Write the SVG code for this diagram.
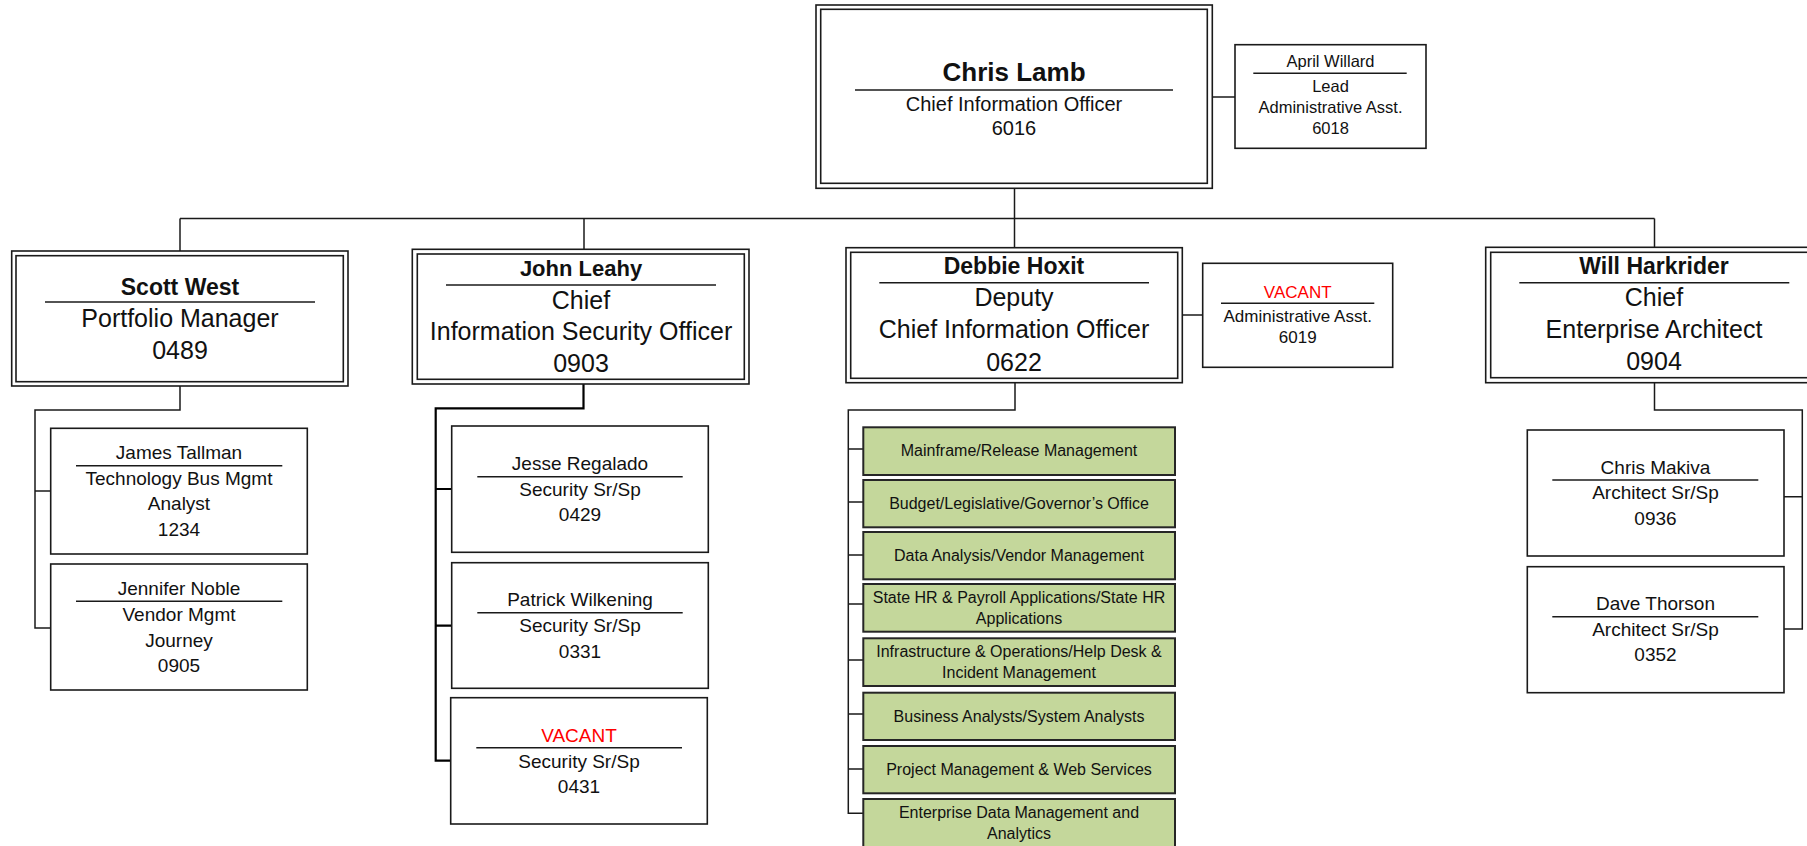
<svg xmlns="http://www.w3.org/2000/svg" width="1807" height="846" viewBox="0 0 1807 846">
<style>
.bx{fill:#fff;stroke:#1a1a1a;stroke-width:1.6}
.in{fill:none;stroke:#1a1a1a;stroke-width:1.6}
.gr{fill:#C4D79B;stroke:#262626;stroke-width:2}
.ln{stroke:#1a1a1a;stroke-width:1.5}
.cn{fill:none;stroke:#1a1a1a;stroke-width:1.5}
.ck{fill:none;stroke:#000;stroke-width:2.2}
text{font-family:"Liberation Sans",Arial,sans-serif;text-anchor:middle;fill:#111}
.bd{font-weight:bold}
.red{fill:#FF0000}
.s26{font-size:26px}.s25{font-size:25px}.s23{font-size:23px}.s22{font-size:22px}
.s20{font-size:20px}.s19{font-size:19px}.s17{font-size:17px}.s16{font-size:16px}.s165{font-size:16.5px}
</style>
<rect width="1807" height="846" fill="#fff"/>
<g id="connectors">
<path class="cn" d="M1014.5 188 V248"/>
<path class="cn" d="M180 218.5 H1654.5"/>
<path class="cn" d="M180 218.5 V251"/>
<path class="cn" d="M584 218.5 V249"/>
<path class="cn" d="M1654.5 218.5 V247"/>
<path class="cn" d="M1212 97 H1235"/>
<path class="cn" d="M1182 315 H1203"/>
<path class="cn" d="M180 386 V410 H35 V628 H50.7 M35 491 H50.7"/>
<path class="ck" d="M583.5 384 V408.3 H435.7 V760.7 H450.7 M435.7 489 H451.7 M435.7 625.7 H451.7"/>
<path class="cn" d="M1015 383 V410 H848.3 V813.3 H863.3 M848.3 449 H863.3 M848.3 502 H863.3 M848.3 555 H863.3 M848.3 604 H863.3 M848.3 660 H863.3 M848.3 714 H863.3 M848.3 769 H863.3"/>
<path class="cn" d="M1654.5 383 V410 H1802.3 V629 H1784 M1802.3 496.7 H1784"/>
</g>
<g id="chris-lamb">
<rect class="bx" x="816" y="5" width="396.3" height="183.3" stroke-width="2"/>
<rect class="in" x="820.7" y="9.3" width="386.6" height="174" stroke-width="2"/>
<text class="bd s26" x="1014" y="81">Chris Lamb</text>
<line class="ln" x1="855" y1="90" x2="1173" y2="90"/>
<text class="s20" x="1014" y="111">Chief Information Officer</text>
<text class="s20" x="1014" y="135">6016</text>
</g>
<g id="april-willard">
<rect class="bx" x="1235" y="44.7" width="191" height="103.6"/>
<text class="s165" x="1330.5" y="67.3">April Willard</text>
<line class="ln" x1="1253.3" y1="73.3" x2="1406.7" y2="73.3"/>
<text class="s165" x="1330.5" y="92.3">Lead</text>
<text class="s165" x="1330.5" y="113.3">Administrative Asst.</text>
<text class="s165" x="1330.5" y="134.3">6018</text>
</g>
<g id="scott-west">
<rect class="bx" x="11.7" y="251" width="336.3" height="135"/>
<rect class="in" x="16" y="255.7" width="327.3" height="126"/>
<text class="bd s23" x="180" y="295">Scott West</text>
<line class="ln" x1="45" y1="302" x2="315" y2="302"/>
<text class="s25" x="180" y="327">Portfolio Manager</text>
<text class="s25" x="180" y="359">0489</text>
</g>
<g id="john-leahy">
<rect class="bx" x="412.3" y="249.3" width="336.7" height="134.7"/>
<rect class="in" x="417.3" y="254" width="327" height="125.3"/>
<text class="bd s22" x="581" y="276">John Leahy</text>
<line class="ln" x1="446" y1="285" x2="716" y2="285"/>
<text class="s25" x="581" y="309">Chief</text>
<text class="s25" x="581" y="340">Information Security Officer</text>
<text class="s25" x="581" y="371.7">0903</text>
</g>
<g id="debbie-hoxit">
<rect class="bx" x="846" y="247.7" width="336.3" height="135"/>
<rect class="in" x="850.7" y="252.3" width="327" height="126"/>
<text class="bd s23" x="1014" y="274">Debbie Hoxit</text>
<line class="ln" x1="879.3" y1="282.7" x2="1149" y2="282.7"/>
<text class="s25" x="1014" y="306">Deputy</text>
<text class="s25" x="1014" y="338.3">Chief Information Officer</text>
<text class="s25" x="1014" y="370.7">0622</text>
</g>
<g id="vacant-admin">
<rect class="bx" x="1202.7" y="263.3" width="190" height="104"/>
<text class="s17 red" x="1297.7" y="298.3">VACANT</text>
<line class="ln" x1="1221" y1="303.3" x2="1374.3" y2="303.3"/>
<text class="s17" x="1297.7" y="321.7">Administrative Asst.</text>
<text class="s17" x="1297.7" y="343.3">6019</text>
</g>
<g id="will-harkrider">
<rect class="bx" x="1485.7" y="247.3" width="340" height="135.4"/>
<rect class="in" x="1490.7" y="252.3" width="330" height="125.4"/>
<text class="bd s23" x="1654" y="274.3">Will Harkrider</text>
<line class="ln" x1="1519.3" y1="282.7" x2="1789.3" y2="282.7"/>
<text class="s25" x="1654" y="306">Chief</text>
<text class="s25" x="1654" y="338.3">Enterprise Architect</text>
<text class="s25" x="1654" y="370">0904</text>
</g>
<g id="james-tallman">
<rect class="bx" x="50.7" y="428.3" width="256.6" height="125.7"/>
<text class="s19" x="179" y="459">James Tallman</text>
<line class="ln" x1="76" y1="465.7" x2="282.3" y2="465.7"/>
<text class="s19" x="179" y="485">Technology Bus Mgmt</text>
<text class="s19" x="179" y="510">Analyst</text>
<text class="s19" x="179" y="535.7">1234</text>
</g>
<g id="jennifer-noble">
<rect class="bx" x="50.7" y="564" width="256.6" height="126"/>
<text class="s19" x="179" y="595">Jennifer Noble</text>
<line class="ln" x1="76" y1="601.3" x2="282.3" y2="601.3"/>
<text class="s19" x="179" y="621">Vendor Mgmt</text>
<text class="s19" x="179" y="646.7">Journey</text>
<text class="s19" x="179" y="672.3">0905</text>
</g>
<g id="jesse-regalado">
<rect class="bx" x="451.7" y="426" width="256.6" height="126.3"/>
<text class="s19" x="580" y="470">Jesse Regalado</text>
<line class="ln" x1="477.3" y1="476.7" x2="682.7" y2="476.7"/>
<text class="s19" x="580" y="496">Security Sr/Sp</text>
<text class="s19" x="580" y="521">0429</text>
</g>
<g id="patrick-wilkening">
<rect class="bx" x="451.7" y="562.7" width="256.6" height="125.6"/>
<text class="s19" x="580" y="606">Patrick Wilkening</text>
<line class="ln" x1="477.3" y1="612.7" x2="682.7" y2="612.7"/>
<text class="s19" x="580" y="632.3">Security Sr/Sp</text>
<text class="s19" x="580" y="657.7">0331</text>
</g>
<g id="vacant-security">
<rect class="bx" x="450.7" y="697.7" width="256.6" height="126.3"/>
<text class="s19 red" x="579" y="741.7">VACANT</text>
<line class="ln" x1="476.3" y1="747.7" x2="682" y2="747.7"/>
<text class="s19" x="579" y="768.3">Security Sr/Sp</text>
<text class="s19" x="579" y="792.7">0431</text>
</g>
<g id="chris-makiva">
<rect class="bx" x="1527.3" y="430" width="256.7" height="126"/>
<text class="s19" x="1655.5" y="474">Chris Makiva</text>
<line class="ln" x1="1552.3" y1="480" x2="1758.3" y2="480"/>
<text class="s19" x="1655.5" y="499.3">Architect Sr/Sp</text>
<text class="s19" x="1655.5" y="525">0936</text>
</g>
<g id="dave-thorson">
<rect class="bx" x="1527.3" y="566.7" width="256.7" height="126"/>
<text class="s19" x="1655.5" y="610">Dave Thorson</text>
<line class="ln" x1="1552.3" y1="616.7" x2="1758.3" y2="616.7"/>
<text class="s19" x="1655.5" y="635.7">Architect Sr/Sp</text>
<text class="s19" x="1655.5" y="661">0352</text>
</g>
<g id="mainframe">
<rect class="gr" x="863.3" y="427.3" width="311.7" height="47.7"/>
<text class="s16" x="1019" y="455.7">Mainframe/Release Management</text>
</g>
<g id="budget">
<rect class="gr" x="863.3" y="480" width="311.7" height="47.3"/>
<text class="s16" x="1019" y="509">Budget/Legislative/Governor’s Office</text>
</g>
<g id="data-analysis">
<rect class="gr" x="863.3" y="532" width="311.7" height="47.3"/>
<text class="s16" x="1019" y="561">Data Analysis/Vendor Management</text>
</g>
<g id="state-hr">
<rect class="gr" x="863.3" y="584" width="311.7" height="47.7"/>
<text class="s16" x="1019" y="603.3">State HR &amp; Payroll Applications/State HR</text>
<text class="s16" x="1019" y="624">Applications</text>
</g>
<g id="infrastructure">
<rect class="gr" x="863.3" y="638.3" width="311.7" height="47.7"/>
<text class="s16" x="1019" y="657.3">Infrastructure &amp; Operations/Help Desk &amp;</text>
<text class="s16" x="1019" y="678.3">Incident Management</text>
</g>
<g id="business-analysts">
<rect class="gr" x="863.3" y="692.7" width="311.7" height="47.3"/>
<text class="s16" x="1019" y="721.7">Business Analysts/System Analysts</text>
</g>
<g id="project-management">
<rect class="gr" x="863.3" y="746" width="311.7" height="47.3"/>
<text class="s16" x="1019" y="775">Project Management &amp; Web Services</text>
</g>
<g id="enterprise-data">
<rect class="gr" x="863.3" y="799" width="311.7" height="60"/>
<text class="s16" x="1019" y="818.3">Enterprise Data Management and</text>
<text class="s16" x="1019" y="839">Analytics</text>
</g>
</svg>
